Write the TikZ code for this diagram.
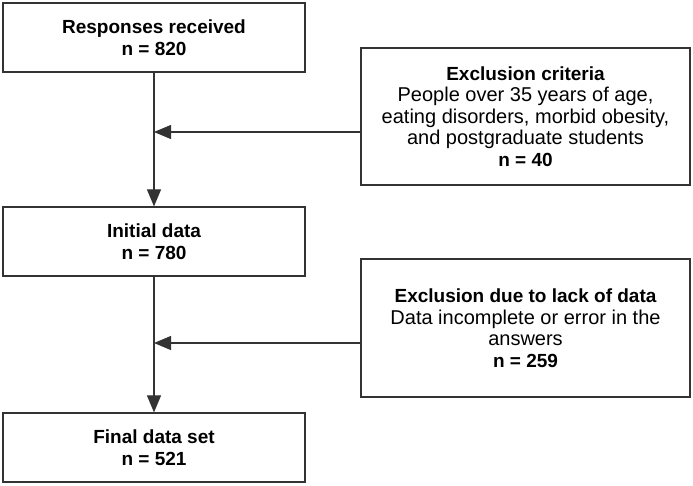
\documentclass[tikz,border=0pt]{standalone}
\usepackage{fontspec}
\setmainfont{Liberation Sans}
\usetikzlibrary{arrows.meta}
\newcommand{\hd}[1]{{\fontsize{19}{21.5}\selectfont\bfseries #1}}

\begin{document}
\begin{tikzpicture}[x=1pt, y=-1pt,
  box/.style={draw=black!80, line width=1.2pt, align=center, inner sep=2pt,
    font=\fontsize{20}{21.5}\selectfont},
  flow/.style={draw=black!80, line width=1.1pt, -{Triangle[length=17pt,width=14pt]}}]
  \useasboundingbox (0,0) rectangle (693,485);
  % main column
  \node[box, minimum width=302, minimum height=69] (recv) at (154,37.5)
    {\hd{Responses received}\\\hd{n = 820}};
  \node[box, minimum width=302, minimum height=69] (init) at (154,241.5)
    {\hd{Initial data}\\\hd{n = 780}};
  \node[box, minimum width=302, minimum height=69] (final) at (154,447.5)
    {\hd{Final data set}\\\hd{n = 521}};
  % exclusions
  \node[box, minimum width=329, minimum height=137] (excl) at (525.5,116.5)
    {\hd{Exclusion criteria}\\People over 35 years of age,\\eating disorders, morbid obesity,\\and postgraduate students\\\hd{n = 40}};
  \node[box, minimum width=329, minimum height=138] (lack) at (525.5,328)
    {\hd{Exclusion due to lack of data}\\Data incomplete or error in the\\answers\\\hd{n = 259}};
  \coordinate (j1) at (154,132);
  \coordinate (j2) at (154,343);
  \draw[flow] (recv) -- (init);
  \draw[flow] (init) -- (final);
  \draw[flow] (excl.west |- j1) -- (j1);
  \draw[flow] (lack.west |- j2) -- (j2);
\end{tikzpicture}
\end{document}
